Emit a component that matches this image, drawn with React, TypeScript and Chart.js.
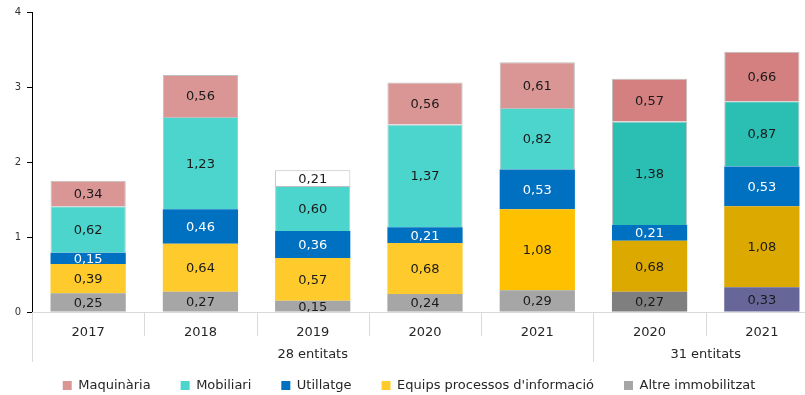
import React, { useEffect, useRef } from 'react';
import { Chart, registerables } from 'chart.js';

Chart.register(...registerables);

const categories = ['2017', '2018', '2019', '2020', '2021', '2020', '2021'];
const groupLabels = ['28 entitats', '31 entitats'];
const groupSizes = [5, 2];

const altre = [0.25, 0.27, 0.15, 0.24, 0.29, 0.27, 0.33];
const equips = [0.39, 0.64, 0.57, 0.68, 1.08, 0.68, 1.08];
const utillatge = [0.15, 0.46, 0.36, 0.21, 0.53, 0.21, 0.53];
const mobiliari = [0.62, 1.23, 0.6, 1.37, 0.82, 1.38, 0.87];
const maquinaria = [0.34, 0.56, 0.21, 0.56, 0.61, 0.57, 0.66];

const altreColors = ['#a6a6a6', '#a6a6a6', '#a6a6a6', '#a6a6a6', '#a6a6a6', '#7f7f7f', '#666699'];
const equipsColors = ['#ffca2c', '#ffca2c', '#ffca2c', '#ffca2c', '#ffc000', '#dca900', '#dca900'];
const utillatgeColors = ['#0070c0', '#0070c0', '#0070c0', '#0070c0', '#0070c0', '#0070c0', '#0070c0'];
const mobiliariColors = ['#4bd5cd', '#4bd5cd', '#4bd5cd', '#4bd5cd', '#4bd5cd', '#2bbfb4', '#2bbfb4'];
const maquinariaColors = ['#d99694', '#d99694', '#ffffff', '#d99694', '#d99694', '#d48080', '#d48080'];

const FONT = '"DejaVu Sans", Verdana, sans-serif';

const segLabels = {
  id: 'segLabels',
  afterDatasetsDraw(chart: any) {
    const ctx = chart.ctx;
    ctx.save();
    ctx.font = `13px ${FONT}`;
    ctx.textAlign = 'center';
    ctx.textBaseline = 'middle';
    chart.data.datasets.forEach((ds: any, di: number) => {
      const meta = chart.getDatasetMeta(di);
      meta.data.forEach((el: any, i: number) => {
        const v = ds.data[i];
        const p = el.getProps(['x', 'y', 'base'], true);
        ctx.fillStyle = ds.labelColor;
        ctx.fillText(v.toFixed(2).replace('.', ','), p.x, (p.y + p.base) / 2 + 1);
      });
    });
    ctx.restore();
  },
};

const groupAxis = {
  id: 'groupAxis',
  afterDraw(chart: any) {
    const ctx = chart.ctx;
    const xs = chart.scales.x;
    const n = categories.length;
    const bottom = chart.chartArea.bottom;
    const bound = (i: number) =>
      i === 0 ? xs.left : i === n ? xs.right : (xs.getPixelForValue(i - 1) + xs.getPixelForValue(i)) / 2;
    const groupEdges: number[] = [0];
    groupSizes.forEach((s) => groupEdges.push(groupEdges[groupEdges.length - 1] + s));
    ctx.save();
    ctx.strokeStyle = '#d9d9d9';
    ctx.lineWidth = 1;
    for (let i = 0; i <= n; i++) {
      const x = Math.round(bound(i)) + 0.5;
      const long = groupEdges.includes(i);
      ctx.beginPath();
      ctx.moveTo(x, bottom);
      ctx.lineTo(x, bottom + (long ? 50 : 24));
      ctx.stroke();
    }
    ctx.fillStyle = '#262626';
    ctx.font = `13px ${FONT}`;
    ctx.textAlign = 'center';
    ctx.textBaseline = 'middle';
    groupLabels.forEach((g, gi) => {
      const x0 = bound(groupEdges[gi]);
      const x1 = bound(groupEdges[gi + 1]);
      ctx.fillText(g, (x0 + x1) / 2, bottom + 43);
    });
    ctx.restore();
  },
};

export default function App() {
  const ref = useRef<HTMLCanvasElement | null>(null);
  useEffect(() => {
    document.body.style.margin = '0';
    const canvas = ref.current!;
    const mk = (label: string, data: number[], colors: string[], labelColor: string, bordered: boolean) => ({
      label,
      data,
      backgroundColor: colors,
      borderColor: bordered ? '#bfbfbf' : 'rgba(0,0,0,0)',
      borderWidth: bordered ? 1 : 0,
      labelColor,
      barPercentage: 0.67,
      categoryPercentage: 1,
    });
    const chart = new Chart(canvas, {
      type: 'bar',
      data: {
        labels: categories,
        datasets: [
          mk('Altre immobilitzat', altre, altreColors, '#1a1a1a', false),
          mk("Equips processos d'informació", equips, equipsColors, '#1a1a1a', false),
          mk('Utillatge', utillatge, utillatgeColors, '#ffffff', false),
          mk('Mobiliari', mobiliari, mobiliariColors, '#1a1a1a', true),
          mk('Maquinària', maquinaria, maquinariaColors, '#1a1a1a', true),
        ] as any,
      },
      options: {
        responsive: false,
        animation: false,
        devicePixelRatio: 1,
        layout: { padding: { top: 11, left: 0, right: 0, bottom: 0 } },
        scales: {
          x: {
            stacked: true,
            grid: { display: false },
            border: { display: true, color: '#d9d9d9' },
            ticks: { color: '#262626', font: { family: FONT, size: 13 }, padding: 5 },
            afterFit: (s: any) => {
              s.height = 37;
            },
          },
          y: {
            stacked: true,
            min: 0,
            max: 4,
            ticks: { stepSize: 1, color: '#333333', font: { family: FONT, size: 10 }, padding: 6 },
            grid: { drawOnChartArea: false, drawTicks: true, tickLength: 5, color: '#000000' },
            border: { display: true, color: '#000000' },
            afterFit: (s: any) => {
              s.width = 32;
            },
          },
        },
        plugins: {
          legend: {
            position: 'bottom',
            reverse: true,
            labels: {
              boxWidth: 9,
              boxHeight: 9,
              padding: 30,
              color: '#262626',
              font: { family: FONT, size: 13 },
              generateLabels: (c: any) =>
                Chart.defaults.plugins.legend.labels
                  .generateLabels(c)
                  .map((it: any) => ({ ...it, lineWidth: 0, strokeStyle: 'rgba(0,0,0,0)' })),
            },
          },
          tooltip: { enabled: false },
        },
      } as any,
      plugins: [segLabels, groupAxis],
    });
    return () => chart.destroy();
  }, []);
  return (
    <div style={{ position: 'fixed', left: 0, top: 0, width: 805, height: 395, overflow: 'hidden', background: '#fff' }}>
      <canvas ref={ref} width={818} height={402} style={{ display: 'block', width: 818, height: 402 }} />
    </div>
  );
}
